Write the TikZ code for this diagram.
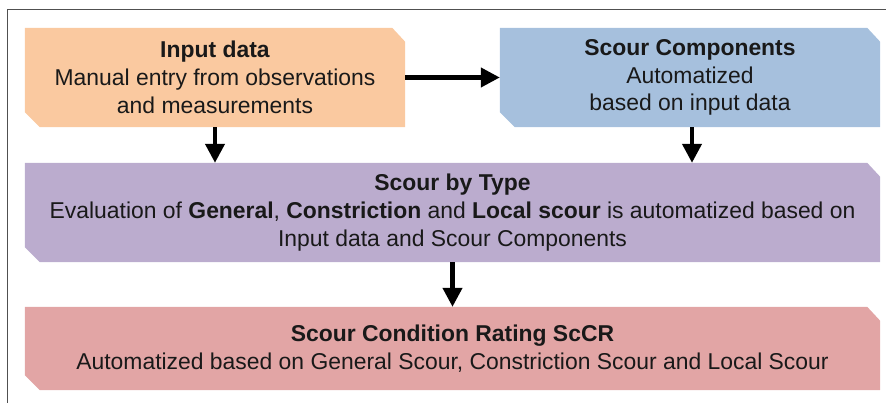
\documentclass[tikz,border=0pt]{standalone}
\usepackage{fontspec}
\setmainfont{Liberation Sans}
\usetikzlibrary{arrows.meta,backgrounds}
\definecolor{cin}{RGB}{250,201,160}
\definecolor{ccomp}{RGB}{166,192,221}
\definecolor{ctype}{RGB}{187,172,206}
\definecolor{crate}{RGB}{226,165,165}
\definecolor{ctext}{RGB}{25,25,25}
\definecolor{cframe}{RGB}{80,80,80}
\begin{document}
\begin{tikzpicture}[x=1pt,y=-1pt,
  box/.style={draw=none,inner sep=0pt,align=center,text=ctext,
    font=\fontsize{22.9}{27.8}\selectfont},
  conn/.style={line width=4.2pt,-{Triangle[length=19pt,width=19pt]}}]
\useasboundingbox (0,0) rectangle (886,403);
\draw[cframe,line width=1pt] (7,403) -- (7,10) -- (886,10);
\node[box,minimum width=380pt,minimum height=99pt] (in) at (215,77.5)
  {\textbf{Input data}\\Manual entry from observations\\and measurements};
\node[box,minimum width=380pt,minimum height=99pt] (comp) at (690,77.5)
  {\textbf{Scour Components}\\Automatized\\based on input data};
\node[box,minimum width=855pt,minimum height=99pt] (type) at (452.5,212.5)
  {\textbf{Scour by Type}\\Evaluation of \textbf{General}, \textbf{Constriction} and \textbf{Local scour} is automatized based on\\Input data and Scour Components};
\node[box,minimum width=855pt,minimum height=83pt] (rate) at (452.5,348.5)
  {\textbf{Scour Condition Rating ScCR}\\Automatized based on General Scour, Constriction Scour and Local Scour};
\begin{scope}[on background layer]
  \foreach \n/\c in {in/cin,comp/ccomp,type/ctype,rate/crate}{
    \fill[\c] (\n.north west) -- ([xshift=-13pt]\n.north east) -- ([yshift=-14pt]\n.north east)
      -- (\n.south east) -- ([xshift=15pt]\n.south west) -- ([yshift=15pt]\n.south west) -- cycle;
  }
\end{scope}
\draw[conn] (in.east) -- (comp.west);
\draw[conn] (in.south) -- (in.south |- type.north);
\draw[conn] ([xshift=2pt]comp.south) -- ([xshift=2pt]comp.south |- type.north);
\draw[conn] (type.south) -- (rate.north);
\end{tikzpicture}
\end{document}
